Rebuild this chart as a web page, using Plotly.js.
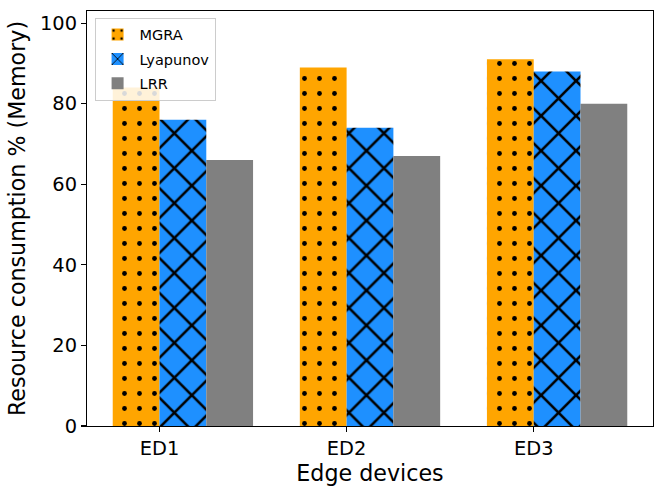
<!DOCTYPE html>
<html>
<head>
<meta charset="utf-8">
<script src="https://cdn.plot.ly/plotly-3.0.1.min.js"></script>
<style>html,body{margin:0;padding:0;background:#fff;}#chart{width:664px;height:495px;}</style>
</head>
<body>
<div id="chart"></div>
<script>
const categories = ["ED1", "ED2", "ED3"];
const mgra = [84, 89, 91];
const lyapunov = [76, 74, 88];
const lrr = [66, 67, 80];
const seriesNames = ["MGRA", "Lyapunov", "LRR"];

const xs = categories.map((c, i) => i);
const font = "DejaVu Sans, sans-serif";

const traces = [
  {type: "bar", name: seriesNames[0], legendgroup: "g0", x: xs, y: mgra,
   marker: {color: "#FFA500", line: {width: 0},
            pattern: {shape: ".", fgcolor: "#000", bgcolor: "#FFA500", fgopacity: 1, size: 15, solidity: 0.08, fillmode: "replace"}}},
  {type: "bar", name: seriesNames[1], legendgroup: "g1", x: xs, y: lyapunov,
   marker: {color: "#1E90FF", line: {width: 0},
            pattern: {shape: "x", fgcolor: "#000", bgcolor: "#1E90FF", fgopacity: 1, size: 24.7, solidity: 0.2, fillmode: "replace"}}},
  {type: "bar", name: seriesNames[2], legendgroup: "g2", x: xs, y: lrr,
   marker: {color: "#808080", line: {width: 0}}}
];

const layout = {
  width: 664, height: 495,
  margin: {l: 86.7, r: 10.7, t: 10.7, b: 68.9, pad: 0},
  paper_bgcolor: "#fff", plot_bgcolor: "#fff",
  barmode: "group", bargap: 0.25, bargroupgap: 0,
  font: {family: font, color: "#000"},
  showlegend: true,
  legend: {x: 0.0134, y: 0.984, xanchor: "left", yanchor: "top",
           bgcolor: "rgba(255,255,255,0.85)", bordercolor: "#cccccc", borderwidth: 1,
           font: {family: font, size: 14.5, color: "#000"}, tracegroupgap: 2.5, itemwidth: 34},
  xaxis: {
    range: [-0.5125, 2.5125],
    tickmode: "array",
    tickvals: xs.map(i => i - 0.125),
    ticktext: categories,
    showgrid: false, zeroline: false,
    showline: true, mirror: true, linecolor: "#000", linewidth: 1.1,
    ticks: "outside", ticklen: 5, tickwidth: 1.1, tickcolor: "#000",
    tickfont: {family: font, size: 19.4, color: "#000"},
    title: {text: "Edge devices", font: {family: font, size: 22.2, color: "#000"}, standoff: 6},
    automargin: false
  },
  yaxis: {
    range: [0, 103],
    tickmode: "array",
    tickvals: [0, 20, 40, 60, 80, 100],
    showgrid: false, zeroline: false,
    showline: true, mirror: true, linecolor: "#000", linewidth: 1.1,
    ticks: "outside", ticklen: 5, tickwidth: 1.1, tickcolor: "#000",
    tickfont: {family: font, size: 19.4, color: "#000"},
    title: {text: "Resource consumption % (Memory)", font: {family: font, size: 22.2, color: "#000"}, standoff: 8},
    automargin: false
  }
};

Plotly.newPlot("chart", traces, layout, {displayModeBar: false, staticPlot: true});
</script>
</body>
</html>
